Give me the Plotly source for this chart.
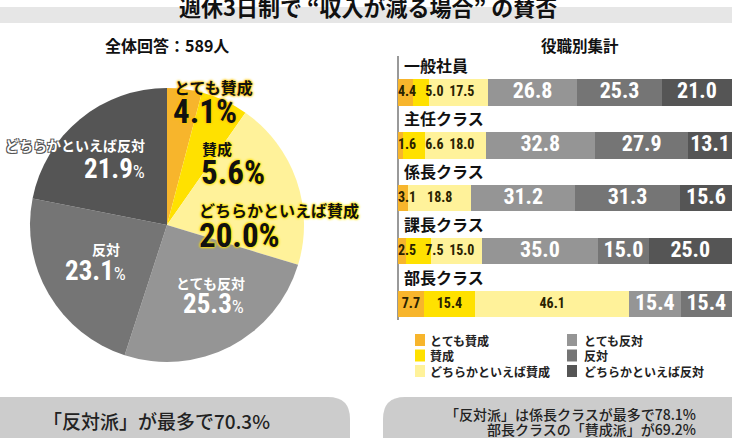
import plotly.graph_objects as go

W, H = 732, 438

# ---------------- data ----------------
responses = ["とても賛成", "賛成", "どちらかといえば賛成", "とても反対", "反対", "どちらかといえば反対"]
colors = ["#F7B52C", "#FFE100", "#FFF29A", "#959595", "#757575", "#555555"]
overall_pct = [4.1, 5.6, 20.0, 25.3, 23.1, 21.9]

positions = ["一般社員", "主任クラス", "係長クラス", "課長クラス", "部長クラス"]
very_agree = [4.4, 1.6, 3.1, 2.5, 7.7]
agree = [5.0, 6.6, 0.0, 7.5, 15.4]
somewhat_agree = [17.5, 18.0, 18.8, 15.0, 46.1]
very_disagree = [26.8, 32.8, 31.2, 35.0, 15.4]
disagree = [25.3, 27.9, 31.3, 15.0, 15.4]
somewhat_disagree = [21.0, 13.1, 15.6, 25.0, 0.0]
by_position = [very_agree, agree, somewhat_agree, very_disagree, disagree, somewhat_disagree]

title_text = "週休3日制で “収入が減る場合” の賛否"
left_sub = "全体回答：589人"
right_sub = "役職別集計"
note_left = "「反対派」が最多で70.3%"
note_right = ["「反対派」は係長クラスが最多で78.1%", "部長クラスの「賛成派」が69.2%"]

# ---------------- helpers ----------------
def px(x):
    return x / W

def py(y):
    return 1 - y / H

JP = "Noto Sans CJK JP, sans-serif"
NUM = ("Roboto Condensed, Noto Sans ExtraCondensed, Noto Sans Condensed, "
       "Liberation Sans Narrow, DejaVu Sans Condensed, sans-serif")

fig = go.Figure()

# pie
fig.add_trace(go.Pie(
    labels=responses, values=overall_pct, sort=False, direction="clockwise", rotation=0,
    marker=dict(colors=colors, line=dict(width=0)), textinfo="none", hoverinfo="label+value",
    showlegend=False,
    domain=dict(x=[px(30), px(304)], y=[py(362), py(88)]),
))

# stacked bars (no text here; labels drawn on top afterwards)
for i, (name, vals) in enumerate(zip(responses, by_position)):
    fig.add_trace(go.Bar(
        y=positions, x=[v if v > 0 else None for v in vals], orientation="h", name=name,
        marker=dict(color=colors[i], line=dict(width=0)),
        showlegend=False, hoverinfo="x+name",
    ))

# value labels: centred in each segment, small "agree" labels kept apart
MIN_FIRST = 2.7   # percent units
MIN_GAP = 8.2
small_x, small_y, small_t = [], [], []
big_x, big_y, big_t = [], [], []
for j, cat in enumerate(positions):
    base = 0.0
    last = None
    for i in range(len(responses)):
        v = by_position[i][j]
        mid = base + v / 2
        base += v
        if v <= 0:
            continue
        if i < 3:
            xpos = max(mid, MIN_FIRST) if last is None else max(mid, last + MIN_GAP)
            last = xpos
            small_x.append(xpos); small_y.append(cat); small_t.append(f"{v:.1f}")
        else:
            big_x.append(mid); big_y.append(cat); big_t.append(f"{v:.1f}")

fig.add_trace(go.Scatter(
    x=small_x, y=small_y, text=small_t, mode="text", textposition="middle center",
    textfont=dict(family=NUM, size=14, color="#2a2200", weight="bold"),
    showlegend=False, hoverinfo="skip", cliponaxis=False,
))
fig.add_trace(go.Scatter(
    x=big_x, y=big_y, text=big_t, mode="text", textposition="middle center",
    textfont=dict(family=NUM, size=22, color="white", weight="bold"),
    showlegend=False, hoverinfo="skip", cliponaxis=False,
))

fig.update_layout(
    width=W, height=H, margin=dict(l=0, r=0, t=0, b=0),
    paper_bgcolor="white", plot_bgcolor="rgba(0,0,0,0)",
    barmode="stack", bargap=0.5,
    xaxis=dict(domain=[px(398), 1.0], range=[0, 100], visible=False, fixedrange=True),
    yaxis=dict(domain=[py(330.5), py(66)], type="category", categoryorder="array",
               categoryarray=positions, range=[4.5, -0.5], visible=False, fixedrange=True),
    showlegend=False,
)

shapes = []
# title band
shapes.append(dict(type="rect", xref="paper", yref="paper", x0=0, x1=1, y0=py(23), y1=py(7),
                   fillcolor="#e6e6e6", line=dict(width=0), layer="below"))
# vertical guide line at bar start
shapes.append(dict(type="line", xref="paper", yref="paper", x0=px(398), x1=px(398), y0=py(320), y1=py(56),
                   line=dict(color="#999999", width=2), layer="below"))

# rounded bottom boxes
def P(x, y):
    return f"{px(x):.5f},{py(y):.5f}"

left_box = f"M {P(-5,397)} L {P(328,397)} Q {P(350,397)} {P(350,419)} L {P(350,445)} L {P(-5,445)} Z"
right_box = f"M {P(383,445)} L {P(383,419)} Q {P(383,397)} {P(405,397)} L {P(740,397)} L {P(740,445)} Z"
for pth in (left_box, right_box):
    shapes.append(dict(type="path", xref="paper", yref="paper", path=pth,
                       fillcolor="#cccccc", line=dict(width=0), layer="below"))

# manual legend
leg_cols = [(415, 428), (567, 582)]
leg_rows = [340, 355.5, 371]
annotations = []
for i, name in enumerate(responses):
    col = i // 3
    row = i % 3
    sx, tx = leg_cols[col]
    cy = leg_rows[row]
    shapes.append(dict(type="rect", xref="paper", yref="paper",
                       x0=px(sx), x1=px(sx + 10), y0=py(cy + 6), y1=py(cy - 6),
                       fillcolor=colors[i], line=dict(width=0)))
    annotations.append(dict(xref="paper", yref="paper", x=px(tx), y=py(cy), text=name,
                            showarrow=False, xanchor="left", yanchor="middle",
                            font=dict(family=JP, size=12, color="#222222", weight="bold")))

fig.update_layout(shapes=shapes)

def ann(x, y, text, size, color="#111111", xanchor="center", family=JP, weight="bold", shadow=None):
    f = dict(family=family, size=size, color=color, weight=weight)
    if shadow:
        f["shadow"] = shadow
    annotations.append(dict(xref="paper", yref="paper", x=px(x), y=py(y), text=text,
                            showarrow=False, xanchor=xanchor, yanchor="middle", font=f))

# titles
ann(368, 6, title_text, 22)
ann(167, 44.5, left_sub, 16)
ann(580, 44.5, right_sub, 15.5)

# row labels above bars
for cat in positions:
    annotations.append(dict(xref="paper", yref="y", x=px(402), y=cat, yshift=27.5, text=cat,
                            showarrow=False, xanchor="left", yanchor="middle",
                            font=dict(family=JP, size=16, color="#111111", weight="bold")))

# pie labels
glow_o = "0 0 3px #FFC400, 0 0 3px #FFC400, 0 0 2px #FFD000"
glow_y = "0 0 3px #FFE100, 0 0 3px #FFE100, 0 0 2px #FFE100"
dark_o = "1px 1px 0 #555, -1px -1px 0 #555, 1px -1px 0 #555, -1px 1px 0 #555"

def pct_big(v):
    return f"{v:.1f}%"

def pct_gray(v):
    return f"{v:.1f}<span style='font-size:19px;font-weight:normal'>%</span>"

ann(172, 87, responses[0], 16, xanchor="left", shadow=glow_o)
ann(171, 111, pct_big(overall_pct[0]), 33, xanchor="left", family=NUM, shadow=glow_o)
ann(200, 148, responses[1], 15, xanchor="left", shadow=glow_y)
ann(199, 172, pct_big(overall_pct[1]), 33, xanchor="left", family=NUM, shadow=glow_y)
ann(197, 210, responses[2], 16, xanchor="left", shadow=glow_y)
ann(197, 235, pct_big(overall_pct[2]), 33, xanchor="left", family=NUM, shadow=glow_y)
ann(210, 283, responses[3], 14, color="white")
ann(246, 304, pct_gray(overall_pct[3]), 27, color="white", xanchor="right", family=NUM)
ann(106, 249, responses[4], 14, color="white")
ann(128, 271, pct_gray(overall_pct[4]), 27, color="white", xanchor="right", family=NUM)
ann(147, 145, responses[5], 14, color="white", xanchor="right", shadow=dark_o)
ann(147, 169, pct_gray(overall_pct[5]), 27, color="white", xanchor="right", family=NUM)

# bottom notes
ann(156, 420, note_left, 19, color="#222222", weight=500)
ann(698, 413.5, note_right[0], 14, color="#222222", xanchor="right", weight=500)
ann(698, 429, note_right[1], 14, color="#222222", xanchor="right", weight=500)

fig.update_layout(annotations=annotations)

fig.write_html(
    "out.html",
    config={"displayModeBar": False},
    post_script="document.body.style.margin='0';document.body.style.overflow='hidden';",
)
